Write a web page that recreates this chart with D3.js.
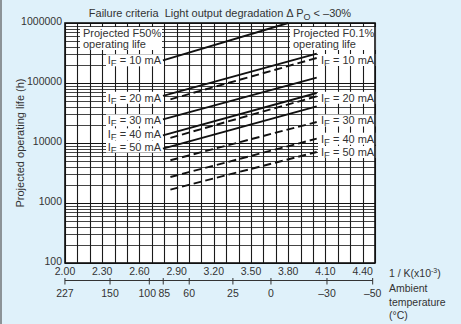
<!DOCTYPE html>
<html>
<head>
<meta charset="utf-8">
<script src="https://cdn.jsdelivr.net/npm/d3@7"></script>
<style>
	html, body { margin: 0; padding: 0; background: #dff1fa; }
	svg { display: block; }
	text { font-family: "Liberation Sans", Arial, Helvetica, sans-serif; fill: #333; white-space: pre; }
</style>
</head>
<body>
<svg id="chart" width="461" height="324"></svg>
<script>
// forward currents, one line per current and per failure criterion
var currents = [10, 20, 30, 40, 50];

// projected F50% life (solid): 1/K (x10^-3) at both ends and the life in hours
var f50InvT = [[2.79, 3.80], [2.79, 4.03], [2.79, 4.03], [2.79, 4.03], [2.79, 4.03]];
var f50Life = [[239000, 1000000], [61200, 309000], [24800, 123000], [13400, 68100], [8070, 40900]];

// projected F0.1% life (dashed)
var f01InvT = [[2.85, 4.03], [2.85, 4.03], [2.85, 4.03], [2.85, 4.03], [2.85, 4.03]];
var f01Life = [[53500, 261000], [12200, 60000], [5150, 22400], [2710, 11800], [1670, 7080]];

// axis ticks
var xTicks = [2.00, 2.30, 2.60, 2.90, 3.20, 3.50, 3.80, 4.10, 4.40];
var yTicks = [100, 1000, 10000, 100000, 1000000];
var tempTicks = [227, 150, 100, 85, 60, 25, 0, -30, -50];

window.addEventListener("load", function () {
	var svg = d3.select("#chart");
	var left = 65, right = 375, top = 23, bottom = 263;

	var x = d3.scaleLinear().domain([2.0, 4.5]).range([left, right]);
	var y = d3.scaleLog().domain([100, 1000000]).range([bottom, top]);

	// page border on the left
	svg.append("line").attr("x1", 1).attr("x2", 1).attr("y1", 0).attr("y2", 324)
		.attr("stroke", "#555").attr("stroke-width", 1.2);

	// title
	var title = svg.append("text").attr("x", 220).attr("y", 17)
		.attr("text-anchor", "middle").style("font-size", "11px");
	title.append("tspan").text("Failure criteria  Light output degradation \u0394 P");
	title.append("tspan").attr("dy", 2.5).style("font-size", "9px").text("O");
	title.append("tspan").attr("dy", -2.5).text(" < \u201330%");

	// plot background
	svg.append("rect").attr("x", left).attr("y", top)
		.attr("width", right - left).attr("height", bottom - top).attr("fill", "#fff");

	var grid = svg.append("g").attr("class", "grid");

	// horizontal log grid
	var hLines = [];
	for (var k = 2; k < 6; k++) {
		for (var m = 1; m < 10; m++) {
			hLines.push(m * Math.pow(10, k));
		}
	}
	hLines.push(1000000);
	grid.selectAll("line.h").data(hLines).enter().append("line")
		.attr("class", "h")
		.attr("x1", left).attr("x2", right)
		.attr("y1", function(d) { return Math.round(y(d)) + 0.5; })
		.attr("y2", function(d) { return Math.round(y(d)) + 0.5; })
		.attr("stroke", function(d) { return yTicks.indexOf(d) >= 0 ? "#111" : "#444"; })
		.attr("stroke-width", 1);

	// vertical grid every 0.1
	var vLines = d3.range(20, 46).map(function(d) { return d / 10; });
	grid.selectAll("line.v").data(vLines).enter().append("line")
		.attr("class", "v")
		.attr("y1", top).attr("y2", bottom)
		.attr("x1", function(d) { return Math.round(x(d)) + 0.5; })
		.attr("x2", function(d) { return Math.round(x(d)) + 0.5; })
		.attr("stroke", "#1a1a1a").attr("stroke-width", 1.1);

	// label boxes (white, hide the grid)
	var labels = svg.append("g").attr("class", "labels");

	var addBlock = function(x0, w, anchorX, anchor, lines) {
		labels.append("rect").attr("x", x0).attr("y", 27).attr("width", w).attr("height", 23).attr("fill", "#fff");
		lines.forEach(function(t, i) {
			labels.append("text").attr("x", anchorX).attr("y", 37 + i * 11)
				.attr("text-anchor", anchor).style("font-size", "11px").text(t);
		});
	};
	addBlock(80, 82, 83, "start", ["Projected F50%", "operating life"]);
	addBlock(290, 86, 293, "start", ["Projected F0.1%", "operating life"]);

	var addCurrent = function(px, py, anchor, mA) {
		var w = 56;
		labels.append("rect")
			.attr("x", anchor == "end" ? px - w + 1 : px - 3)
			.attr("y", py - 6).attr("width", w + 2).attr("height", 12).attr("fill", "#fff");
		var t = labels.append("text").attr("x", px).attr("y", py + 4)
			.attr("text-anchor", anchor).style("font-size", "11px");
		t.append("tspan").text("I");
		t.append("tspan").attr("dy", 2).style("font-size", "9.5px").text("F");
		t.append("tspan").attr("dy", -2).text(" = " + mA + " mA");
	};

	// current labels beside the line ends, pulled apart a little where they crowd
	var leftY = [0, 2, 1, -1, -2];
	var rightY = [2, 1.5, -1.5, 0, 0];
	currents.forEach(function(c, i) {
		addCurrent(161, y(f50Life[i][0]) + leftY[i], "end", c);
		addCurrent(321, y(f01Life[i][1]) + rightY[i], "start", c);
	});

	// the life lines
	var line = d3.line()
		.x(function(d) { return x(d[0]); })
		.y(function(d) { return y(d[1]); });

	var series = function(invT, life) {
		return invT.map(function(xs, i) {
			return xs.map(function(v, j) { return [v, life[i][j]]; });
		});
	};

	svg.append("g").selectAll("path").data(series(f50InvT, f50Life)).enter().append("path")
		.attr("d", line).attr("fill", "none").attr("stroke", "#111").attr("stroke-width", 1.9);

	svg.append("g").selectAll("path").data(series(f01InvT, f01Life)).enter().append("path")
		.attr("d", line).attr("fill", "none").attr("stroke", "#111").attr("stroke-width", 1.9)
		.attr("stroke-dasharray", "8,4");

	// frame
	svg.append("rect").attr("x", left).attr("y", top)
		.attr("width", right - left).attr("height", bottom - top)
		.attr("fill", "none").attr("stroke", "#111").attr("stroke-width", 1.6);

	// y tick labels
	svg.append("g").selectAll("text").data(yTicks).enter().append("text")
		.attr("x", 62).attr("y", function(d) { return y(d) + 2; })
		.attr("text-anchor", "end").style("font-size", "10.5px")
		.text(function(d) { return d; });

	svg.append("text")
		.attr("transform", "translate(24," + ((top + bottom) / 2) + ") rotate(-90)")
		.attr("text-anchor", "middle").style("font-size", "11px")
		.text("Projected operating life (h)");

	// x tick labels (1/K)
	svg.append("g").selectAll("text").data(xTicks).enter().append("text")
		.attr("x", function(d) { return x(d); }).attr("y", 274.5)
		.attr("text-anchor", "middle").style("font-size", "10.5px")
		.text(function(d) { return d.toFixed(2); });

	// temperature scale below
	var invT = function(c) { return 1000 / (c + 273.15); };
	var axisY = 280.5;
	var temp = svg.append("g");
	temp.append("line")
		.attr("x1", x(invT(tempTicks[0]))).attr("x2", x(invT(tempTicks[tempTicks.length - 1])))
		.attr("y1", axisY).attr("y2", axisY).attr("stroke", "#333").attr("stroke-width", 1);
	temp.selectAll("line.t").data(tempTicks).enter().append("line")
		.attr("class", "t")
		.attr("x1", function(d) { return x(invT(d)); }).attr("x2", function(d) { return x(invT(d)); })
		.attr("y1", axisY - 2.5).attr("y2", axisY + 4).attr("stroke", "#333").attr("stroke-width", 1);
	temp.selectAll("text").data(tempTicks).enter().append("text")
		.attr("x", function(d) { return x(invT(d)) + (d == 100 ? -2 : d == 85 ? 1 : 0); })
		.attr("y", 297)
		.attr("text-anchor", "middle").style("font-size", "10.5px")
		.text(function(d) { return d < 0 ? "\u2013" + (-d) : d; });

	// axis captions on the right
	var cap = svg.append("text").attr("x", 389).attr("y", 277).style("font-size", "10.5px");
	cap.append("tspan").text("1 / K(x10");
	cap.append("tspan").attr("dy", -4).style("font-size", "7px").text("-3");
	cap.append("tspan").attr("dy", 4).text(")");
	["Ambient", "temperature", "(\u00b0C)"].forEach(function(t, i) {
		svg.append("text").attr("x", 389).attr("y", 292 + i * 13.5)
			.style("font-size", "10.5px").text(t);
	});
});
</script>
</body>
</html>
